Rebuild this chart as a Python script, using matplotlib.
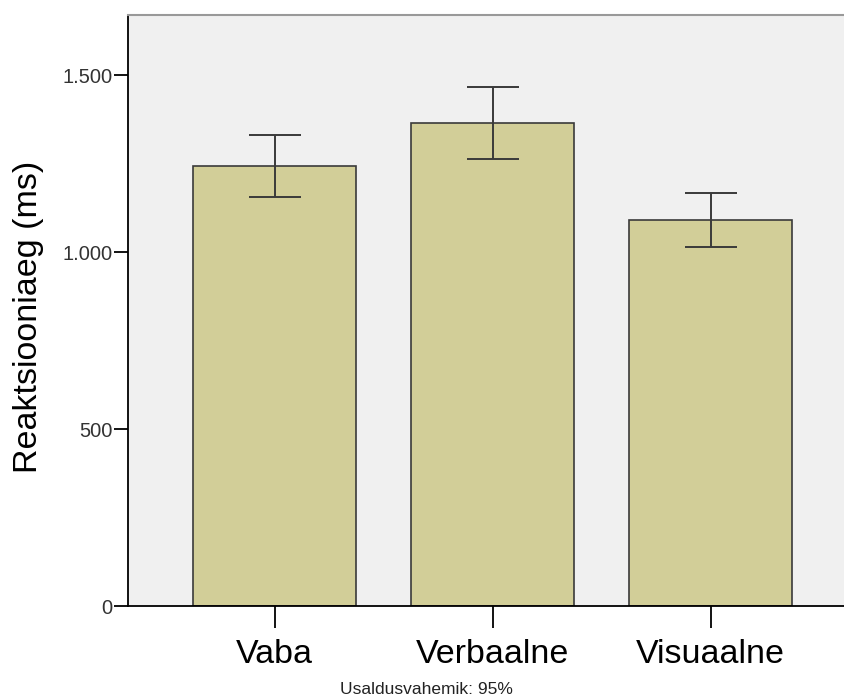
import numpy as np
import matplotlib
matplotlib.use("Agg")
from matplotlib import pyplot as plt

# data
categories = ["Vaba", "Verbaalne", "Visuaalne"]
means = [1243, 1364, 1090]
ci_low = [1155, 1263, 1014]
ci_high = [1330, 1466, 1167]

plt.rcParams["font.family"] = ["Liberation Sans", "DejaVu Sans"]

fig = plt.figure(figsize=(8.44, 7.0), dpi=100)
ax = fig.add_axes([128 / 844, 1 - 606 / 700, (844 - 128) / 844, (606 - 15) / 700])
ax.set_facecolor("#F0F0F0")

x = np.arange(len(categories))
means = np.array(means)
yerr = [means - np.array(ci_low), np.array(ci_high) - means]

ax.bar(x, means, width=0.75, color="#D2CE98", edgecolor="#3a3a3a", linewidth=1.2, zorder=2)
ax.errorbar(x, means, yerr=yerr, fmt="none", ecolor="#3a3a3a", elinewidth=1.4,
            capsize=19, capthick=1.4, zorder=3)

ax.set_xlim(-0.672, 2.612)
ax.set_ylim(0, 1670)
ax.set_yticks([0, 500, 1000, 1500])
ax.set_yticklabels(["0", "500", "1.000", "1.500"], fontsize=14.5, color="#333333")
ax.set_xticks(x)
ax.set_xticklabels(categories, fontsize=24.5)
ax.tick_params(axis="y", length=10, width=1.3, pad=1)
ax.tick_params(axis="x", length=16, width=1.3, pad=8)

ax.set_ylabel("Reaktsiooniaeg (ms)", fontsize=24.5)
# right edge of the rotated label sits about 43 px from the left of the figure
ax.yaxis.set_label_coords(-(128 - 44) / 716, 0.49)

ax.spines["right"].set_visible(False)
ax.spines["top"].set_color("#999999")
ax.spines["top"].set_linewidth(1.5)
ax.spines["left"].set_linewidth(1.3)
ax.spines["bottom"].set_linewidth(1.3)

fig.text(426 / 844, 1 - 690 / 700, "Usaldusvahemik: 95%", fontsize=12.5, ha="center", va="center",
         color="#222222")

plt.savefig("out.png", dpi=100)
